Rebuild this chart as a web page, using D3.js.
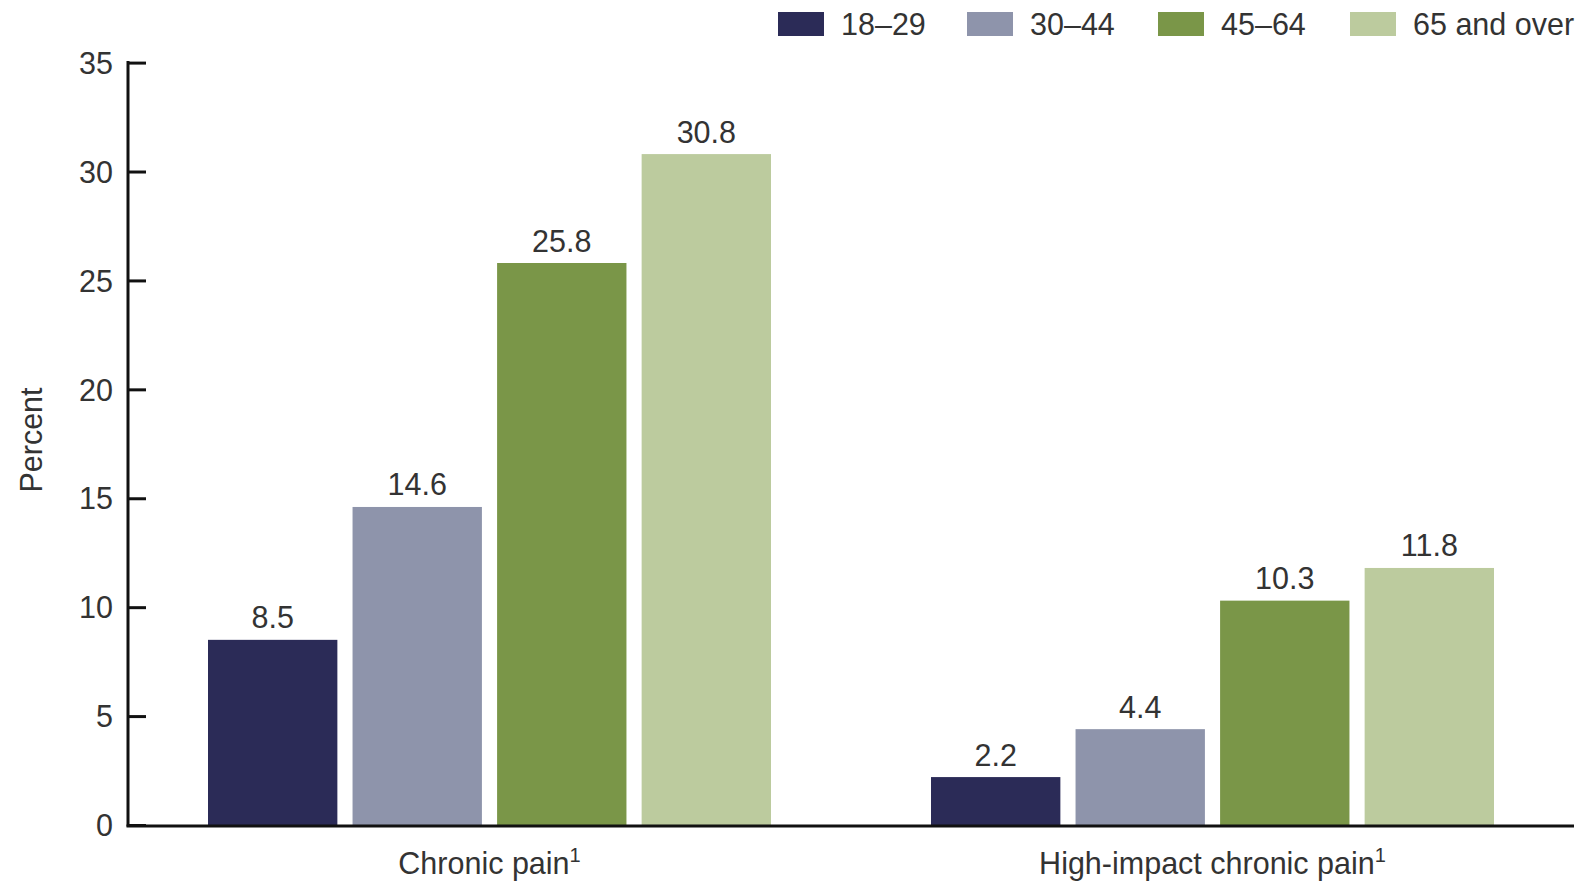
<!DOCTYPE html>
<html><head><meta charset="utf-8">
<script src="https://cdn.jsdelivr.net/npm/d3@7"></script>
<style>
html,body{margin:0;padding:0;background:#fff;}
text{font-family:"Liberation Sans",Arial,sans-serif;fill:#333;}
</style></head>
<body>
<svg id="chart" width="1584" height="882"></svg>
<script>
const categories = ["Chronic pain", "High-impact chronic pain"];
const ageGroups = ["18\u201329", "30\u201344", "45\u201364", "65 and over"];
const values18_29 = [8.5, 2.2];
const values30_44 = [14.6, 4.4];
const values45_64 = [25.8, 10.3];
const values65plus = [30.8, 11.8];
const yTicks = [0, 5, 10, 15, 20, 25, 30, 35];
const colors = ["#2b2b57", "#8e94ab", "#7a9648", "#bccb9e"];

const seriesValues = [values18_29, values30_44, values45_64, values65plus];
const data = categories.map((c, i) => ({
  category: c,
  values: ageGroups.map((g, j) => ({group: g, value: seriesValues[j][i]}))
}));

const svg = d3.select("#chart");
const mLeft = 128, mRight = 1574, mTop = 62.6, mBottom = 825;
const fs = 30.5;

const x0 = d3.scaleBand().domain(categories).range([mLeft, mRight]).padding(0);
const groupWidth = 563;
const x1 = d3.scaleBand().domain(ageGroups).range([0, groupWidth]).paddingInner(0.105).paddingOuter(0);
const y = d3.scaleLinear().domain([0, 35]).range([mBottom, mTop]);
const color = d3.scaleOrdinal().domain(ageGroups).range(colors);

// bars
const g = svg.append("g");
const groups = g.selectAll("g.grp").data(data).join("g")
  .attr("transform", d => `translate(${x0(d.category) + (x0.bandwidth() - groupWidth) / 2},0)`);
groups.selectAll("rect").data(d => d.values).join("rect")
  .attr("x", d => x1(d.group))
  .attr("y", d => y(d.value))
  .attr("width", x1.bandwidth())
  .attr("height", d => y(0) - y(d.value))
  .attr("fill", d => color(d.group));
groups.selectAll("text.val").data(d => d.values).join("text")
  .attr("class", "val")
  .attr("x", d => x1(d.group) + x1.bandwidth() / 2)
  .attr("y", d => y(d.value) - 11.5)
  .attr("text-anchor", "middle")
  .style("font-size", fs + "px")
  .text(d => d.value.toFixed(1));

// y axis
const yAxis = d3.axisLeft(y).tickValues(yTicks).tickSize(-18).tickPadding(15).tickFormat(d3.format("d"));
const ya = svg.append("g").attr("transform", `translate(${mLeft},0)`).call(yAxis);
ya.select(".domain").remove();
ya.selectAll(".tick line").attr("stroke", "#111").attr("stroke-width", 3);
ya.selectAll(".tick text").style("font-size", fs + "px").attr("fill", "#333")
  .style("font-family", "'Liberation Sans',Arial,sans-serif").attr("dy", "0.35em");
svg.append("line").attr("x1", mLeft).attr("x2", mLeft).attr("y1", y(35) - 1.5).attr("y2", mBottom + 1.5)
  .attr("stroke", "#111").attr("stroke-width", 3);

// x axis
svg.append("line").attr("x1", mLeft - 1.5).attr("x2", mRight).attr("y1", mBottom + 1).attr("y2", mBottom + 1)
  .attr("stroke", "#111").attr("stroke-width", 3);
const xl = svg.append("g").selectAll("text").data(categories).join("text")
  .attr("x", d => x0(d) + x0.bandwidth() / 2)
  .attr("y", 874)
  .attr("text-anchor", "middle")
  .style("font-size", fs + "px");
xl.append("tspan").text(d => d);
xl.append("tspan").attr("dy", -12).style("font-size", "20px").text("1");

// y label
svg.append("text")
  .attr("transform", `translate(42,${440}) rotate(-90)`)
  .attr("text-anchor", "middle")
  .style("font-size", fs + "px")
  .text("Percent");

// legend
const legendX = [778, 967, 1158, 1350];
const lg = svg.append("g").selectAll("g").data(ageGroups).join("g")
  .attr("transform", (d, i) => `translate(${legendX[i]},12)`);
lg.append("rect").attr("width", 46).attr("height", 24).attr("fill", d => color(d));
lg.append("text").attr("x", 63).attr("y", 23).style("font-size", fs + "px").text(d => d);
</script>
</body></html>
